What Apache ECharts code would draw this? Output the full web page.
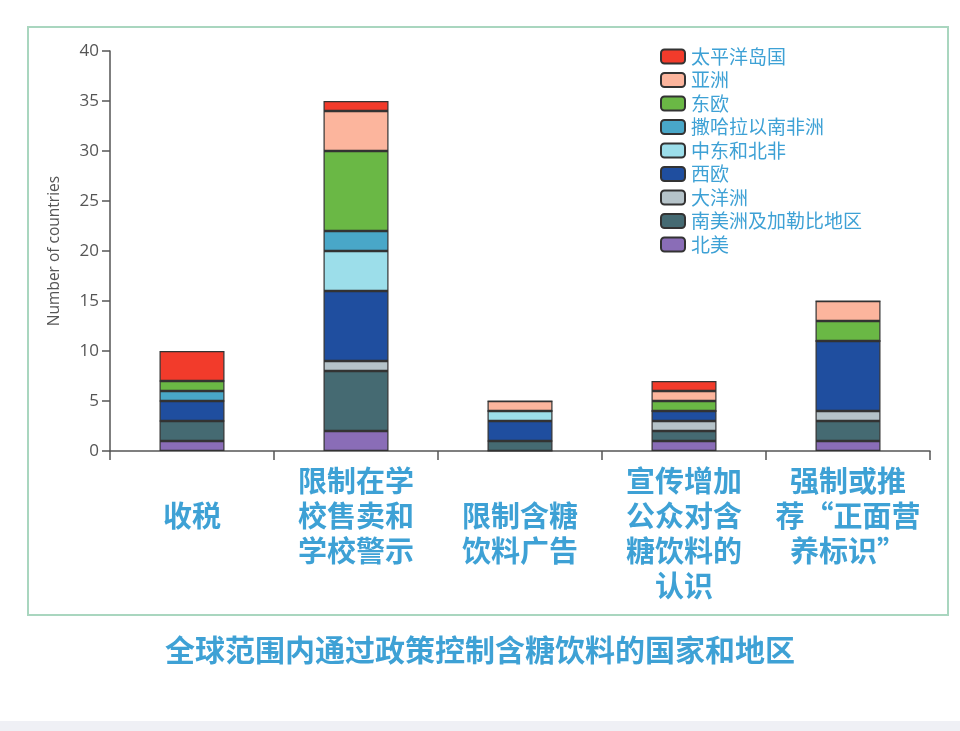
<!DOCTYPE html>
<html>
<head>
<meta charset="utf-8">
<script src="https://cdn.jsdelivr.net/npm/echarts@6/dist/echarts.min.js"></script>
<style>
html,body{margin:0;padding:0;background:#fff;}
#chart{width:960px;height:731px;}
</style>
</head>
<body>
<div id="chart"></div>
<script>
const categories = ['\n收税', '限制在学\n校售卖和\n学校警示', '\n限制含糖\n饮料广告', '宣传增加\n公众对含\n糖饮料的\n认识', '强制或推\n荐“正面营\n养标识”'];
const yTicks = [0, 5, 10, 15, 20, 25, 30, 35, 40];
// stacked bottom to top
const seriesNames = ['北美', '南美洲及加勒比地区', '大洋洲', '西欧', '中东和北非', '撒哈拉以南非洲', '东欧', '亚洲', '太平洋岛国'];
const northAmerica   = [1, 2, 0, 1, 1];
const southAmerica   = [2, 6, 1, 1, 2];
const oceania        = [0, 1, 0, 1, 1];
const westEurope     = [2, 7, 2, 1, 7];
const middleEast     = [0, 4, 1, 0, 0];
const subSahara      = [1, 2, 0, 0, 0];
const eastEurope     = [1, 8, 0, 1, 2];
const asia           = [0, 4, 1, 1, 2];
const pacific        = [3, 1, 0, 1, 0];
const seriesValues = [northAmerica, southAmerica, oceania, westEurope, middleEast, subSahara, eastEurope, asia, pacific];
const colors = ['#8a6db7', '#456a72', '#b5c3c9', '#1f4e9f', '#9cdeea', '#49a7c8', '#6ab845', '#fcb59d', '#f23b2b'];
const legendOrder = seriesNames.slice().reverse();

const blue = '#3ea1d5';
const chart = echarts.init(document.getElementById('chart'), null, {renderer: 'canvas'});
chart.setOption({
  animation: false,
  graphic: [
    {type: 'rect', shape: {x: 28, y: 27, width: 920, height: 588}, style: {fill: 'none', stroke: '#a9d6bf', lineWidth: 2}, z: -1},
    {type: 'rect', shape: {x: 0, y: 721, width: 960, height: 10}, style: {fill: '#eff0f5'}, z: -1},
    {type: 'text', left: 'center', top: 635, style: {text: '全球范围内通过政策控制含糖饮料的国家和地区', fill: blue, font: 'bold 30px "Noto Sans CJK SC"'}}
  ],
  legend: {
    orient: 'vertical', left: 655, top: 42, itemWidth: 24, itemHeight: 14, itemGap: 4.5,
    data: legendOrder,
    textStyle: {color: blue, fontSize: 19, fontFamily: 'Noto Sans CJK SC', padding: [0, 0, 0, 1]}
  },
  grid: {left: 110, right: 30, top: 51, bottom: 280, containLabel: false},
  xAxis: {
    type: 'category', data: categories,
    axisLine: {lineStyle: {color: '#555', width: 1.5}},
    axisTick: {show: true, length: 9, lineStyle: {color: '#555', width: 1.5}},
    axisLabel: {interval: 0, margin: 12, color: blue, fontSize: 29, lineHeight: 35, fontWeight: 'bold', fontFamily: 'Noto Sans CJK SC', verticalAlign: 'top'}
  },
  yAxis: {
    type: 'value', min: yTicks[0], max: yTicks[yTicks.length - 1], interval: 5,
    name: 'Number of countries', nameLocation: 'middle', nameGap: 47,
    nameTextStyle: {color: '#555', fontSize: 15.5, fontFamily: 'Open Sans'},
    axisLine: {show: true, lineStyle: {color: '#555', width: 1.5}},
    axisTick: {show: true, length: 8, lineStyle: {color: '#555', width: 1.5}},
    axisLabel: {color: '#555', fontSize: 17, margin: 11, fontFamily: 'Open Sans'},
    splitLine: {show: false}
  },
  series: seriesNames.map((n, i) => ({
    name: n, type: 'bar', stack: 'total', barWidth: 65,
    data: seriesValues[i],
    itemStyle: {color: colors[i], borderColor: '#333', borderWidth: 1.2}
  }))
});
</script>
</body>
</html>
